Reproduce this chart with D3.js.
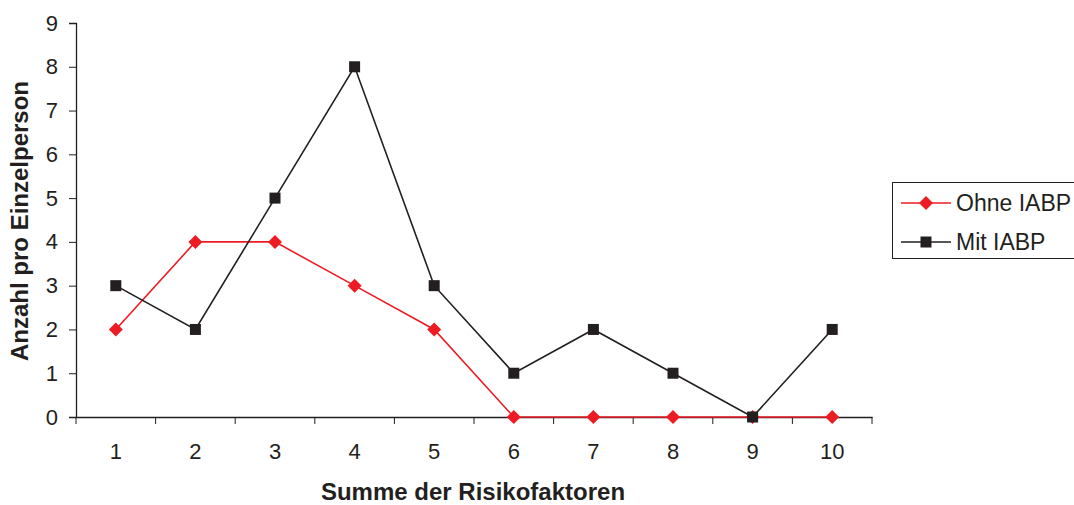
<!DOCTYPE html>
<html>
<head>
<meta charset="utf-8">
<script src="https://cdn.jsdelivr.net/npm/d3@7"></script>
<style>
body { margin: 0; background: #fff; }
text { font-family: "Liberation Sans", Arial, sans-serif; fill: #231f20; }
</style>
</head>
<body>
<div id="chart"></div>
<script>
var svgWidth = 1074;
var svgHeight = 505;

var categories = [1, 2, 3, 4, 5, 6, 7, 8, 9, 10];
var ohneIABP = [2, 4, 4, 3, 2, 0, 0, 0, 0, 0];
var mitIABP = [3, 2, 5, 8, 3, 1, 2, 1, 0, 2];
var yTicks = [0, 1, 2, 3, 4, 5, 6, 7, 8, 9];

var plot = { left: 76, right: 872, top: 23, bottom: 417 };

var svg = d3.select("#chart")
	.append("svg")
	.attr("width", svgWidth)
	.attr("height", svgHeight);

var x = d3.scaleBand()
	.domain(categories)
	.range([plot.left, plot.right]);

var y = d3.scaleLinear()
	.domain([0, 9])
	.range([plot.bottom, plot.top]);

// y axis
var yAxis = svg.append("g")
	.attr("transform", "translate(" + plot.left + ",0)")
	.call(d3.axisLeft(y).tickValues(yTicks).tickSize(7).tickPadding(11));
yAxis.selectAll("text").style("font-size", "22px");

// x axis, ticks sit on the band boundaries
var xAxis = svg.append("g")
	.attr("transform", "translate(0," + plot.bottom + ")")
	.call(d3.axisBottom(x).tickSize(0).tickPadding(26));
xAxis.selectAll("text").style("font-size", "22px");

var boundaries = categories.map(c => x(c)).concat([plot.right]);
xAxis.selectAll(".bnd")
	.data(boundaries)
	.enter()
	.append("line")
	.attr("x1", d => d).attr("x2", d => d)
	.attr("y1", 0).attr("y2", 7)
	.attr("stroke", "#231f20");

svg.selectAll(".domain").attr("stroke", "#231f20").attr("stroke-width", 1.3);
svg.selectAll(".tick line").attr("stroke", "#231f20");

var cx = d => x(d) + x.bandwidth() / 2;

var line = d3.line()
	.x((d, i) => cx(categories[i]))
	.y(d => y(d));

// Ohne IABP
svg.append("path")
	.datum(ohneIABP)
	.attr("d", line)
	.attr("fill", "none")
	.attr("stroke", "#ed1c24")
	.attr("stroke-width", 1.6);

svg.selectAll(".diamond")
	.data(ohneIABP)
	.enter()
	.append("path")
	.attr("d", d3.symbol(d3.symbolDiamond2, 125))
	.attr("transform", (d, i) => "translate(" + cx(categories[i]) + "," + y(d) + ")")
	.attr("fill", "#ed1c24");

// Mit IABP
svg.append("path")
	.datum(mitIABP)
	.attr("d", line)
	.attr("fill", "none")
	.attr("stroke", "#231f20")
	.attr("stroke-width", 1.6);

svg.selectAll(".square")
	.data(mitIABP)
	.enter()
	.append("rect")
	.attr("x", (d, i) => cx(categories[i]) - 5.5)
	.attr("y", d => y(d) - 5.5)
	.attr("width", 11)
	.attr("height", 11)
	.attr("fill", "#231f20");

// axis titles
svg.append("text")
	.attr("x", 473)
	.attr("y", 500)
	.attr("text-anchor", "middle")
	.style("font-size", "24px")
	.style("font-weight", "bold")
	.text("Summe der Risikofaktoren");

svg.append("text")
	.attr("transform", "translate(28,221) rotate(-90)")
	.attr("text-anchor", "middle")
	.style("font-size", "24px")
	.style("font-weight", "bold")
	.text("Anzahl pro Einzelperson");

// legend
var legend = svg.append("g");
legend.append("rect")
	.attr("x", 892.5).attr("y", 182.5)
	.attr("width", 200).attr("height", 76)
	.attr("fill", "none")
	.attr("stroke", "#231f20")
	.attr("stroke-width", 1);

var legendItems = [
	{ name: "Ohne IABP", color: "#ed1c24", marker: "diamond" },
	{ name: "Mit IABP", color: "#231f20", marker: "square" }
];

legendItems.forEach(function (item, i) {
	var ly = 203 + i * 39;
	legend.append("line")
		.attr("x1", 901).attr("x2", 951)
		.attr("y1", ly).attr("y2", ly)
		.attr("stroke", item.color)
		.attr("stroke-width", 1.6);
	if (item.marker == "diamond") {
		legend.append("path")
			.attr("d", d3.symbol(d3.symbolDiamond2, 125))
			.attr("transform", "translate(926," + ly + ")")
			.attr("fill", item.color);
	} else {
		legend.append("rect")
			.attr("x", 920.5).attr("y", ly - 5.5)
			.attr("width", 11).attr("height", 11)
			.attr("fill", item.color);
	}
	legend.append("text")
		.attr("x", 956)
		.attr("y", ly + 8)
		.style("font-size", "23px")
		.text(item.name);
});
</script>
</body>
</html>
